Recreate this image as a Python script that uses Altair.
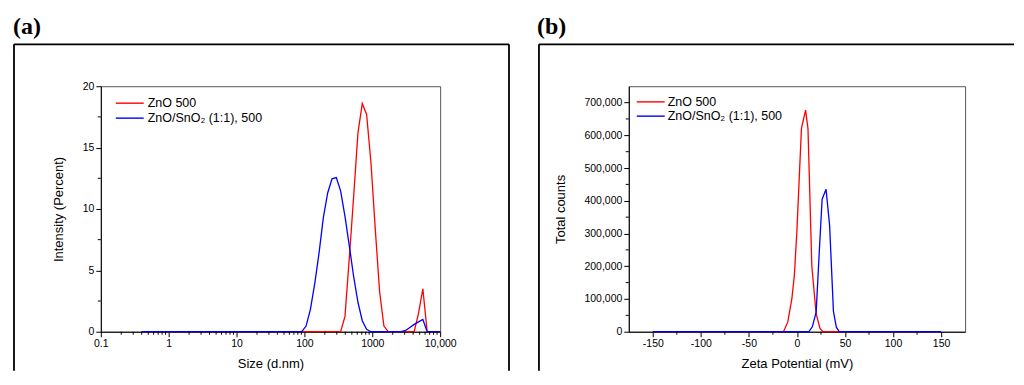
import altair as alt
import pandas as pd

# ---------------- data: (a) DLS size distribution ----------------
size_bins = [0.4, 0.4632, 0.5365, 0.6213, 0.7195, 0.8332, 0.9649, 1.117, 1.294, 1.499,
             1.736, 2.01, 2.328, 2.696, 3.122, 3.615, 4.187, 4.849, 5.615, 6.503,
             7.531, 8.721, 10.1, 11.7, 13.54, 15.69, 18.17, 21.04, 24.36, 28.21,
             32.67, 37.84, 43.82, 50.75, 58.77, 68.06, 78.82, 91.28, 105.7, 122.4,
             141.8, 164.2, 190.1, 220.2, 255.0, 295.3, 342.0, 396.1, 458.7, 531.2,
             615.1, 712.4, 825.0, 955.4, 1106, 1281, 1484, 1718, 1990, 2305,
             2669, 3091, 3580, 4145, 4801, 5560, 6439, 7456, 8635, 10000]
zno_intensity = [0] * 47 + [1.25, 6.0, 11.0, 16.2, 18.6, 17.7, 13.8, 8.4, 3.3, 0.46,
                            0, 0, 0, 0, 0, 0, 0, 1.5, 3.5, 0, 0, 0, 0]
znosno_intensity = [0] * 38 + [0.46, 1.8, 3.9, 6.4, 9.3, 11.3, 12.45, 12.55, 11.45, 9.4,
                               7.0, 4.5, 2.4, 0.9, 0.2, 0, 0, 0, 0, 0, 0, 0, 0,
                               0.1, 0.35, 0.6, 0.8, 1.0, 0, 0, 0, 0]

series_names = ["ZnO 500", "ZnO/SnO\u2082 (1:1), 500"]
series_colors = ["#ff0000", "#0000ff"]

size_tick_values = [0.1, 1, 10, 100, 1000, 10000]
size_tick_labels = ["0.1", "1", "10", "100", "1000", "10,000"]
size_minor = [m * d for d in [0.1, 1, 10, 100, 1000] for m in range(2, 10)]
intensity_ticks = [0, 5, 10, 15, 20]
intensity_minor = [2.5, 7.5, 12.5, 17.5]

# ---------------- data: (b) zeta potential ----------------
zeta_zno_x = [-150, -14, -9.5, -5.3, -2.6, 0, 4.7, 9, 11.5, 15.5, 20, 24, 27, 150]
zeta_zno_y = [0, 0, 30000, 100000, 175000, 310000, 621000, 677000, 620000, 200000, 55000, 10000, 0, 0]
zeta_znosno_x = [-150, 12.5, 16, 20, 23, 26.2, 30.3, 34, 38, 41, 44, 150]
zeta_znosno_y = [0, 0, 15000, 60000, 230000, 405000, 435000, 325000, 62000, 14000, 0, 0]

zeta_ticks = [-150, -100, -50, 0, 50, 100, 150]
zeta_minor = [-125, -75, -25, 25, 75, 125]
count_ticks = [0, 100000, 200000, 300000, 400000, 500000, 600000, 700000]
count_minor = [50000, 150000, 250000, 350000, 450000, 550000, 650000]

W_A, W_B, H = 340, 337, 246
FONT = "Liberation Sans"

one = pd.DataFrame({"k": [0]})


def frame_layers(left, right, top, bottom, with_right, label, label_x, label_y):
    layers = [
        alt.Chart(one).mark_rule(color="black", strokeWidth=1.8).encode(
            x=alt.value(left), x2=alt.value(right), y=alt.value(top)),
        alt.Chart(one).mark_rule(color="black", strokeWidth=1.8).encode(
            x=alt.value(left), y=alt.value(top), y2=alt.value(bottom)),
    ]
    if with_right:
        layers.append(alt.Chart(one).mark_rule(color="black", strokeWidth=1.8).encode(
            x=alt.value(right), y=alt.value(top), y2=alt.value(bottom)))
    layers.append(alt.Chart(one).mark_text(
        text=label, font="Liberation Serif", fontWeight="bold", fontSize=24,
        align="left", baseline="alphabetic", color="black").encode(
        x=alt.value(label_x), y=alt.value(label_y)))
    return layers


def legend_layers(x0, x1, tx, ys):
    layers = []
    for name, col, yy in zip(series_names, series_colors, ys):
        d = pd.DataFrame({"name": [name]})
        layers.append(alt.Chart(d).mark_rule(color=col, strokeWidth=1.4).encode(
            x=alt.value(x0), x2=alt.value(x1), y=alt.value(yy)))
        layers.append(alt.Chart(d).mark_text(
            font=FONT, fontSize=12.5, align="left", baseline="middle", color="black").encode(
            x=alt.value(tx), y=alt.value(yy), text="name:N"))
    return layers


# ---------------- panel (a) ----------------
size_label_expr = "".join(
    f"datum.value == {v} ? '{l}' : " for v, l in zip(size_tick_values, size_tick_labels)) + "''"
xs_a = alt.Scale(type="log", domain=[0.1, 10000], nice=False)
ys_a = alt.Scale(domain=[0, 20], nice=False)
xaxis_a = alt.Axis(values=size_tick_values, labelExpr=size_label_expr, title="Size (d.nm)",
                   titleX=W_A / 2, titleY=26, titleBaseline="top")
yaxis_a = alt.Axis(values=intensity_ticks, title="Intensity (Percent)",
                   titleX=-35, titleY=H / 2)

df_a = pd.DataFrame({"size": size_bins, "zno": zno_intensity, "znosno": znosno_intensity})
xa = alt.X("size:Q", scale=xs_a, axis=xaxis_a)
line_a_red = alt.Chart(df_a).mark_line(color=series_colors[0], strokeWidth=1.3).encode(
    x=xa, y=alt.Y("zno:Q", scale=ys_a, axis=yaxis_a))
line_a_blue = alt.Chart(df_a).mark_line(color=series_colors[1], strokeWidth=1.3).encode(
    x=xa, y=alt.Y("znosno:Q", scale=ys_a, axis=yaxis_a))
minor_a_x = alt.Chart(pd.DataFrame({"size": size_minor})).mark_rule(color="black").encode(
    x=xa, y=alt.value(H), y2=alt.value(H + 3))
minor_a_y = alt.Chart(pd.DataFrame({"zno": intensity_minor})).mark_rule(color="black").encode(
    y=alt.Y("zno:Q", scale=ys_a, axis=yaxis_a), x=alt.value(0), x2=alt.value(-3))

panel_a = alt.layer(
    *frame_layers(-87, 409, -42, 285, True, "(a)", -88, -52),
    line_a_red, line_a_blue, minor_a_x, minor_a_y,
    *legend_layers(15, 43, 47, [17, 32]),
).properties(width=W_A, height=H)

# ---------------- panel (b) ----------------
xs_b = alt.Scale(domain=[-175, 175], nice=False)
ys_b = alt.Scale(domain=[0, 750000], nice=False)
xaxis_b = alt.Axis(values=zeta_ticks, title="Zeta Potential (mV)",
                   labelExpr="datum.value < 0 ? '-' + format(-datum.value, 'd') : format(datum.value, 'd')",
                   titleX=W_B / 2, titleY=26, titleBaseline="top")
yaxis_b = alt.Axis(values=count_ticks, labelExpr="format(datum.value, ',')", title="Total counts",
                   titleX=-61, titleY=H / 2)

df_b_red = pd.DataFrame({"zeta": zeta_zno_x, "counts": zeta_zno_y})
df_b_blue = pd.DataFrame({"zeta": zeta_znosno_x, "counts": zeta_znosno_y})
xb = alt.X("zeta:Q", scale=xs_b, axis=xaxis_b)
yb = alt.Y("counts:Q", scale=ys_b, axis=yaxis_b)
line_b_red = alt.Chart(df_b_red).mark_line(color=series_colors[0], strokeWidth=1.3).encode(x=xb, y=yb)
line_b_blue = alt.Chart(df_b_blue).mark_line(color=series_colors[1], strokeWidth=1.3).encode(x=xb, y=yb)
minor_b_x = alt.Chart(pd.DataFrame({"zeta": zeta_minor})).mark_rule(color="black").encode(
    x=xb, y=alt.value(H), y2=alt.value(H + 3))
minor_b_y = alt.Chart(pd.DataFrame({"counts": count_minor})).mark_rule(color="black").encode(
    y=yb, x=alt.value(0), x2=alt.value(-3))

panel_b = alt.layer(
    *frame_layers(-90, 386, -42, 285, False, "(b)", -92, -52),
    line_b_red, line_b_blue, minor_b_x, minor_b_y,
    *legend_layers(8, 36, 39, [15.7, 30]),
).properties(width=W_B, height=H)

chart = alt.hconcat(panel_a, panel_b, spacing=25).properties(
    padding={"left": 4, "top": 6, "right": 0, "bottom": 0},
    background="white",
).configure_view(
    stroke="#555555", strokeWidth=1
).configure_axis(
    grid=False, domainColor="black", domainWidth=1, tickColor="black", tickSize=5,
    tickWidth=1, labelColor="black", labelFont=FONT, labelFontSize=10.5, labelPadding=2,
    labelFlush=False, labelOverlap=False,
    titleColor="black", titleFont=FONT, titleFontSize=13, titleFontWeight="normal",
)

chart.save("out.html", embed_options={"renderer": "svg", "actions": False})
